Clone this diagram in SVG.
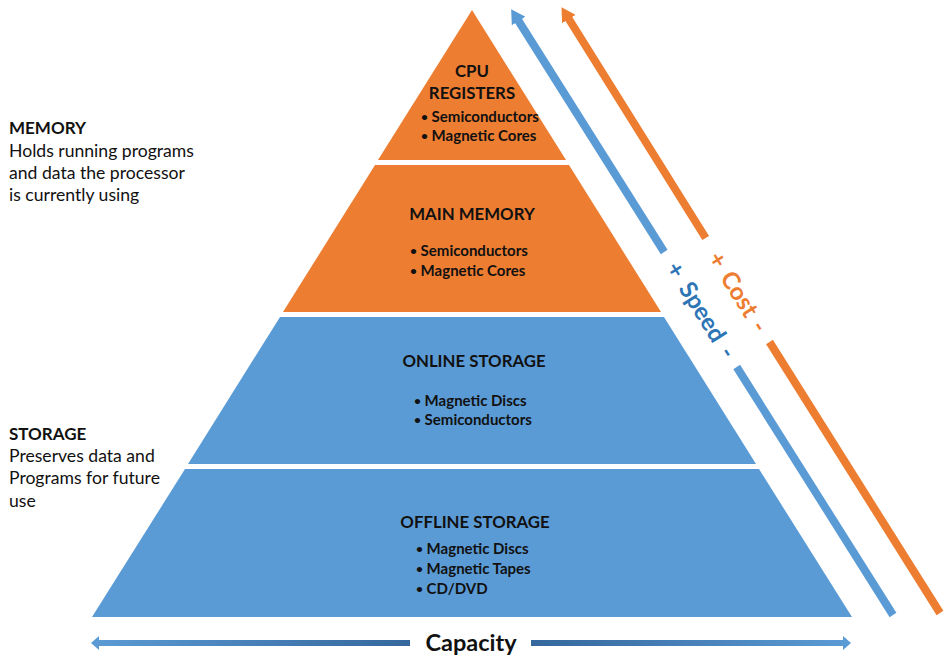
<svg xmlns="http://www.w3.org/2000/svg" width="951" height="659" viewBox="0 0 951 659">
<style>
.orange{fill:#ED7D31}
.blue{fill:#5B9BD5}
.h{font-family:Lato,"Open Sans",sans-serif;font-weight:bold;font-size:16.8px;fill:#111;text-anchor:middle}
.b{font-family:Lato,"Open Sans",sans-serif;font-weight:bold;font-size:15px;fill:#111}
.d{font-size:12px}
.lh{font-family:Lato,"Open Sans",sans-serif;font-weight:bold;font-size:17px;fill:#111}
.lt{font-family:Lato,"Open Sans",sans-serif;font-size:17.6px;fill:#111}
.ax{font-family:Lato,"Open Sans",sans-serif;font-weight:bold;font-size:24px;text-anchor:middle}
</style>
<defs>
<marker id="headB" markerUnits="userSpaceOnUse" viewBox="0 0 14 16" markerWidth="14" markerHeight="16" refX="3" refY="8" orient="auto">
<path d="M0,0 L14,8 L0,16 z" fill="#5B9BD5"/>
</marker>
<marker id="headO" markerUnits="userSpaceOnUse" viewBox="0 0 14 16" markerWidth="14" markerHeight="16" refX="3" refY="8" orient="auto">
<path d="M0,0 L14,8 L0,16 z" fill="#ED7D31"/>
</marker>
<linearGradient id="gL" gradientUnits="userSpaceOnUse" x1="91" y1="0" x2="410" y2="0">
<stop offset="0" stop-color="#5B9BD5"/>
<stop offset="1" stop-color="#35679C"/>
</linearGradient>
<linearGradient id="gR" gradientUnits="userSpaceOnUse" x1="531" y1="0" x2="851" y2="0">
<stop offset="0" stop-color="#35679C"/>
<stop offset="1" stop-color="#5B9BD5"/>
</linearGradient>
</defs>

<g id="cpu-registers">
<polygon class="orange" points="472,10 566,160 378,160"/>
<text class="h" x="472" y="77">CPU</text>
<text class="h" x="472" y="99">REGISTERS</text>
<text class="b" x="421" y="122"><tspan class="d" dy="-1">•</tspan><tspan dy="1"> Semiconductors</tspan></text>
<text class="b" x="421" y="141"><tspan class="d" dy="-1">•</tspan><tspan dy="1"> Magnetic Cores</tspan></text>
</g>

<g id="main-memory">
<polygon class="orange" points="375,165 569,165 661,312 283,312"/>
<text class="h" x="472" y="220">MAIN MEMORY</text>
<text class="b" x="410" y="256"><tspan class="d" dy="-1">•</tspan><tspan dy="1"> Semiconductors</tspan></text>
<text class="b" x="410" y="276"><tspan class="d" dy="-1">•</tspan><tspan dy="1"> Magnetic Cores</tspan></text>
</g>

<g id="online-storage">
<polygon class="blue" points="280,317 664,317 756,464 188,464"/>
<text class="h" x="474" y="367">ONLINE STORAGE</text>
<text class="b" x="414" y="406"><tspan class="d" dy="-1">•</tspan><tspan dy="1"> Magnetic Discs</tspan></text>
<text class="b" x="414" y="425"><tspan class="d" dy="-1">•</tspan><tspan dy="1"> Semiconductors</tspan></text>
</g>

<g id="offline-storage">
<polygon class="blue" points="185,469 759,469 852,617 92,617"/>
<text class="h" x="475" y="528">OFFLINE STORAGE</text>
<text class="b" x="416" y="554"><tspan class="d" dy="-1">•</tspan><tspan dy="1"> Magnetic Discs</tspan></text>
<text class="b" x="416" y="574"><tspan class="d" dy="-1">•</tspan><tspan dy="1"> Magnetic Tapes</tspan></text>
<text class="b" x="416" y="594"><tspan class="d" dy="-1">•</tspan><tspan dy="1"> CD/DVD</tspan></text>
</g>

<g id="memory-label">
<text class="lh" x="9" y="134">MEMORY</text>
<text class="lt" x="9" y="157">Holds running programs</text>
<text class="lt" x="9" y="179">and data the processor</text>
<text class="lt" x="9" y="201">is currently using</text>
</g>

<g id="storage-label">
<text class="lh" x="9" y="440">STORAGE</text>
<text class="lt" x="9" y="462">Preserves data and</text>
<text class="lt" x="9" y="484">Programs for future</text>
<text class="lt" x="9" y="507">use</text>
</g>

<g id="connectors">
<line x1="664.2" y1="252" x2="517" y2="18.5" stroke="#5B9BD5" stroke-width="8" marker-end="url(#headB)"/>
<line x1="736.7" y1="367" x2="893" y2="615" stroke="#5B9BD5" stroke-width="8"/>
<line x1="705.7" y1="238" x2="567.3" y2="16.5" stroke="#ED7D31" stroke-width="8" marker-end="url(#headO)"/>
<line x1="769.5" y1="342" x2="940" y2="613" stroke="#ED7D31" stroke-width="8"/>
<text class="ax" fill="#2E75B6" transform="translate(701,310) rotate(57.8)" dy="8">+<tspan dx="10">Speed</tspan><tspan dx="10">-</tspan></text>
<text class="ax" fill="#ED7D31" transform="translate(738,292) rotate(57.8)" dy="8">+<tspan dx="9">Cost</tspan><tspan dx="9">-</tspan></text>

<rect x="97" y="640" width="313" height="6" fill="url(#gL)"/>
<polygon points="91,643 99,636 99,650" fill="#5B9BD5"/>
<rect x="531" y="640" width="313" height="6" fill="url(#gR)"/>
<polygon points="851,643 843,636 843,650" fill="#5B9BD5"/>
<text x="471" y="651" font-family="Lato,'Open Sans',sans-serif" font-weight="bold" font-size="23.5" text-anchor="middle" fill="#111">Capacity</text>
</g>
</svg>
